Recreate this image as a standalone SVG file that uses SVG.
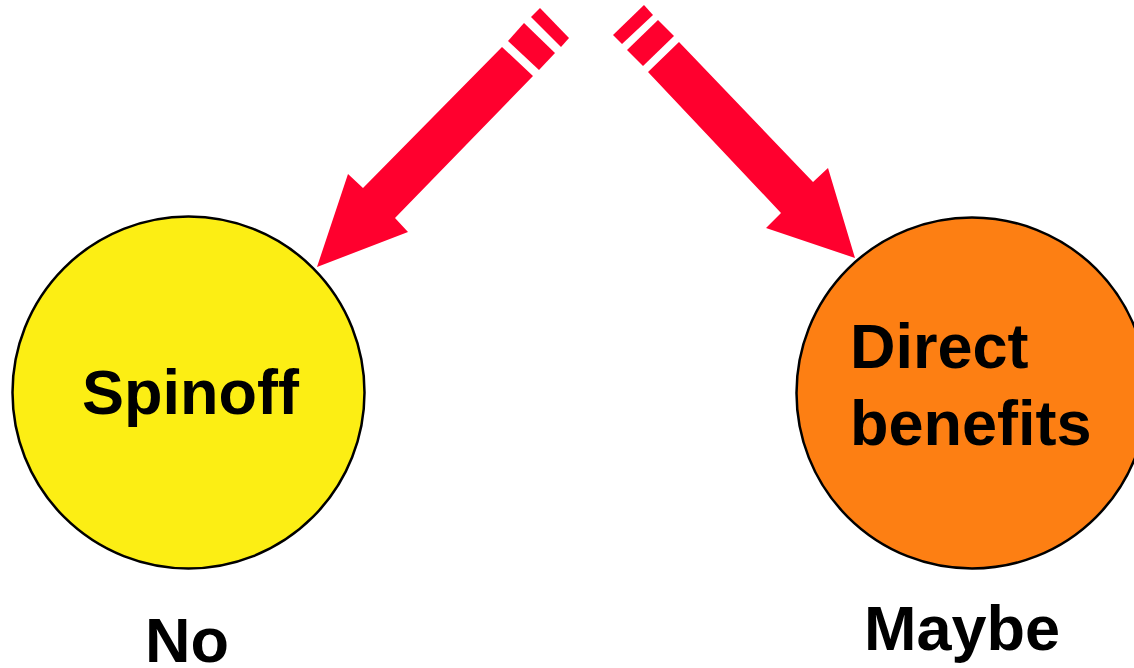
<svg xmlns="http://www.w3.org/2000/svg" width="1134" height="668" viewBox="0 0 1134 668">
<style>
.lbl{font-family:"Liberation Sans",Arial,sans-serif;font-weight:bold;font-size:63px;fill:#000}
.arr{fill:#FF002E}
.node{stroke:#000;stroke-width:2.5}
</style>
<rect width="1134" height="668" fill="#fff"/>
<g id="connectors">
<g id="arrow-left">
<polygon class="arr" points="540,8 569,38 561,47 531,17"/>
<polygon class="arr" points="524,23 555,53 539,70 508,41"/>
<polygon class="arr" points="502,47 533,76 395,218 408,232 317,267 348,174 363,188"/>
</g>
<g id="arrow-right">
<polygon class="arr" points="644,5 653,15 622,44 613,35"/>
<polygon class="arr" points="658,20 674,36 643,66 627,50"/>
<polygon class="arr" points="679,42 648,72 781,213 766,228 855,258 828,168 813,182"/>
</g>
</g>
<g id="spinoff">
<circle class="node" cx="188.5" cy="392.5" r="176" fill="#FCEE14"/>
<text class="lbl" x="82" y="414">Spinoff</text>
</g>
<g id="direct-benefits">
<circle class="node" cx="972" cy="393" r="175.5" fill="#FD7F13"/>
<text class="lbl" x="850" y="368">Direct</text>
<text class="lbl" x="850" y="445">benefits</text>
</g>
<g id="label-no"><text class="lbl" x="145" y="662">No</text></g>
<g id="label-maybe"><text class="lbl" x="864" y="650">Maybe</text></g>
</svg>
